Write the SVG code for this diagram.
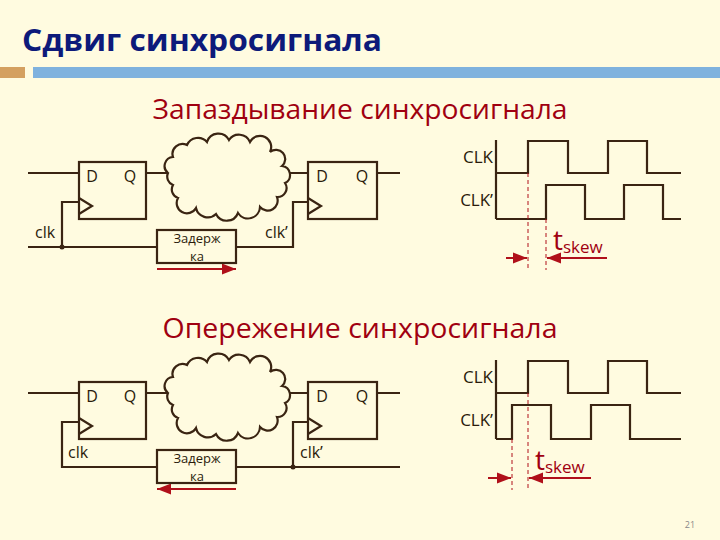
<svg xmlns="http://www.w3.org/2000/svg" width="720" height="540" viewBox="0 0 720 540">
<defs>
<style>
.w{stroke:#3a2412;stroke-width:2.2;fill:none}
.bx{stroke:#3a2412;stroke-width:2.2;fill:#fffbe0}
.t{font-family:"Open Sans","DejaVu Sans",sans-serif;fill:#2a1a0a}
.dl{font-family:"Open Sans","DejaVu Sans",sans-serif;fill:#2a1a0a;font-size:13px;text-anchor:middle}
.r{stroke:#b0101a;stroke-width:2;fill:none}
.rd{stroke:#b0101a;stroke-width:1;stroke-dasharray:4,3;fill:none}
.sk{font-family:"Open Sans","DejaVu Sans",sans-serif;fill:#a00010}
</style>
<marker id="ah" viewBox="0 0 10 10" refX="10" refY="5" markerWidth="7" markerHeight="7" orient="auto-start-reverse"><path d="M0,1 L10,5 L0,9 z" fill="#b0101a"/></marker>
<path id="cloud" d="M0,35 a9,9 0 0 1 5,-16 a10,10 0 0 1 14,-12 a12,12 0 0 1 20,-3 a12,12 0 0 1 22,-2 a12,12 0 0 1 21,2 a11,11 0 0 1 20,10 a9,9 0 0 1 12,14 a9,9 0 0 1 3,17 a9,9 0 0 1 -8,14 a10,10 0 0 1 -17,10 a12,12 0 0 1 -22,6 a12,12 0 0 1 -22,1 a12,12 0 0 1 -20,-6 a10,10 0 0 1 -18,-10 a9,9 0 0 1 -5,-13 a9,9 0 0 1 -5,-12 z"/>
</defs>
<rect width="720" height="540" fill="#fffbe0"/>
<text x="22" y="51" font-family="'Open Sans','DejaVu Sans',sans-serif" font-weight="bold" font-size="31" fill="#0d1a7a" textLength="360" lengthAdjust="spacingAndGlyphs">Сдвиг синхросигнала</text>
<rect x="0" y="67" width="25" height="11" fill="#d4a060"/>
<rect x="33" y="67" width="687" height="11" fill="#7fb2de"/>
<text x="360" y="119" text-anchor="middle" class="sk" font-size="27" fill="#c00000" textLength="415" lengthAdjust="spacingAndGlyphs">Запаздывание синхросигнала</text>
<text x="360" y="338" text-anchor="middle" class="sk" font-size="27" fill="#c00000" textLength="395" lengthAdjust="spacingAndGlyphs">Опережение синхросигнала</text>

<g id="top-circuit">
<g id="connectors-top">
<path class="w" d="M28,173 H79 M146,173 H168 M287,173 H308 M377,173 H400"/>
<path class="w" d="M79,202 H62 V247 M28,247 H157 M236,247 H293 V202 H308"/>
<circle cx="62" cy="247" r="2.5" fill="#3a2412"/>
<line class="r" x1="157" y1="269" x2="236" y2="269" marker-end="url(#ah)"/>
</g>
<g id="ff1-top"><rect class="bx" x="79" y="162" width="67" height="57"/><path class="w" d="M79,198 L92,206 L79,214"/>
<text class="t" x="92" y="182" font-size="16" text-anchor="middle">D</text><text class="t" x="130" y="182" font-size="16" text-anchor="middle">Q</text></g>
<g id="cloud-top"><use href="#cloud" x="168" y="138" class="w" style="fill:#fffbe0"/></g>
<g id="ff2-top"><rect class="bx" x="308" y="162" width="69" height="57"/><path class="w" d="M308,198 L321,206 L308,214"/>
<text class="t" x="322" y="182" font-size="16" text-anchor="middle">D</text><text class="t" x="362" y="182" font-size="16" text-anchor="middle">Q</text></g>
<g id="delay-top"><rect class="bx" x="157" y="230" width="79" height="33"/>
<text class="dl" x="197" y="243">Задерж</text><text class="dl" x="197" y="261">ка</text></g>
<text class="t" x="35" y="238" font-size="16">clk</text>
<text class="t" x="265" y="238" font-size="16">clk’</text>
</g>

<g id="top-timing">
<path class="w" d="M496,140 V219"/>
<path class="w" d="M496,173 H528 V141 H568 V173 H608 V141 H647 V173 H681"/>
<path class="w" d="M496,219 H546 V185 H585 V219 H624 V185 H663 V219 H681"/>
<text class="t" x="493" y="163" font-size="17" text-anchor="end">CLK</text>
<text class="t" x="493" y="206" font-size="17" text-anchor="end">CLK’</text>
<path class="rd" d="M528,173 V270 M546,219 V270"/>
<line class="r" x1="506" y1="258" x2="527" y2="258" marker-end="url(#ah)"/>
<line class="r" x1="607" y1="258" x2="547" y2="258" marker-end="url(#ah)"/>
<text class="sk" x="553" y="250" font-size="28">t<tspan font-size="17" dy="3">skew</tspan></text>
</g>

<g id="bottom-circuit">
<g id="connectors-bottom">
<path class="w" d="M28,393 H79 M146,393 H168 M287,393 H308 M377,393 H400"/>
<path class="w" d="M79,422 H62 V467 H157 M236,467 H400 M293,467 V422 H308"/>
<circle cx="293" cy="467" r="2.5" fill="#3a2412"/>
<line class="r" x1="236" y1="489" x2="157" y2="489" marker-end="url(#ah)"/>
</g>
<g id="ff1-bottom"><rect class="bx" x="79" y="382" width="67" height="57"/><path class="w" d="M79,418 L92,426 L79,434"/>
<text class="t" x="92" y="402" font-size="16" text-anchor="middle">D</text><text class="t" x="130" y="402" font-size="16" text-anchor="middle">Q</text></g>
<g id="cloud-bottom"><use href="#cloud" x="168" y="358" class="w" style="fill:#fffbe0"/></g>
<g id="ff2-bottom"><rect class="bx" x="308" y="382" width="69" height="57"/><path class="w" d="M308,418 L321,426 L308,434"/>
<text class="t" x="322" y="402" font-size="16" text-anchor="middle">D</text><text class="t" x="362" y="402" font-size="16" text-anchor="middle">Q</text></g>
<g id="delay-bottom"><rect class="bx" x="157" y="450" width="79" height="33"/>
<text class="dl" x="197" y="463">Задерж</text><text class="dl" x="197" y="481">ка</text></g>
<text class="t" x="68" y="458" font-size="16">clk</text>
<text class="t" x="300" y="458" font-size="16">clk’</text>
</g>

<g id="bottom-timing">
<path class="w" d="M496,360 V439"/>
<path class="w" d="M496,393 H528 V361 H568 V393 H608 V361 H647 V393 H681"/>
<path class="w" d="M496,439 H512 V405 H551 V439 H591 V405 H630 V439 H681"/>
<text class="t" x="493" y="383" font-size="17" text-anchor="end">CLK</text>
<text class="t" x="493" y="426" font-size="17" text-anchor="end">CLK’</text>
<path class="rd" d="M512,439 V490 M528,393 V490"/>
<line class="r" x1="488" y1="478" x2="511" y2="478" marker-end="url(#ah)"/>
<line class="r" x1="591" y1="478" x2="529" y2="478" marker-end="url(#ah)"/>
<text class="sk" x="535" y="470" font-size="28">t<tspan font-size="17" dy="3">skew</tspan></text>
</g>
<text x="690" y="528" font-family="'Open Sans',sans-serif" font-size="9" fill="#888" text-anchor="middle">21</text>
</svg>
